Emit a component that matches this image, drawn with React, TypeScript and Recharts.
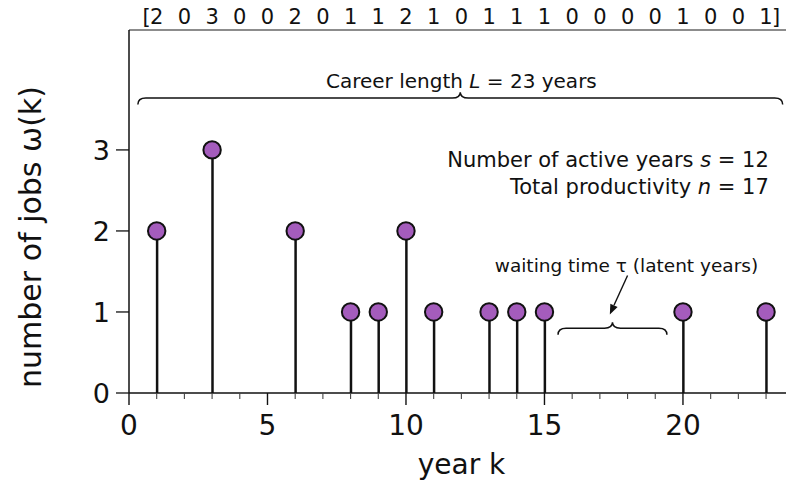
import {
  ComposedChart,
  Bar,
  Scatter,
  XAxis,
  YAxis,
  ReferenceArea,
  ReferenceDot,
  ReferenceLine,
} from 'recharts'

// publication record of one career: jobs per year
const years = [1, 2, 3, 4, 5, 6, 7, 8, 9, 10, 11, 12, 13, 14, 15, 16, 17, 18, 19, 20, 21, 22, 23]
const jobs = [2, 0, 3, 0, 0, 2, 0, 1, 1, 2, 1, 0, 1, 1, 1, 0, 0, 0, 0, 1, 0, 0, 1]

const xTicks = [0, 1, 2, 3, 4, 5, 6, 7, 8, 9, 10, 11, 12, 13, 14, 15, 16, 17, 18, 19, 20, 21, 22, 23]
const xLabelTicks = [0, 5, 10, 15, 20]
const yTicks = [0, 1, 2, 3]

const careerLength = 23
const activeYears = 12
const totalJobs = 17

const data = years.map((year, i) => ({ year, jobs: jobs[i] }))
const active = data.filter(d => d.jobs > 0)

const FONT = '"DejaVu Sans", sans-serif'
const INK = '#111'
const PURPLE = '#a45cbc'

const braceShape = (p: any) => {
  const { x, y, width, height } = p
  const x1 = x
  const x2 = x + width
  const xm = x + width / 2
  const d = height
  const r = 8
  const path = `M ${x1} ${y + d} Q ${x1} ${y} ${x1 + r} ${y} L ${xm - r} ${y} Q ${xm} ${y} ${xm} ${y - d * 0.9} Q ${xm} ${y} ${xm + r} ${y} L ${x2 - r} ${y} Q ${x2} ${y} ${x2} ${y + d}`
  return <path d={path} fill="none" stroke={INK} strokeWidth={1.5} />
}

const arrowShape = (p: any) => {
  const { x1, y1, x2, y2 } = p
  const a = Math.atan2(y2 - y1, x2 - x1)
  const L = 10
  const W = 4
  const bx = x2 - L * Math.cos(a)
  const by = y2 - L * Math.sin(a)
  const px = -Math.sin(a) * W
  const py = Math.cos(a) * W
  return (
    <g>
      <line x1={x1} y1={y1} x2={bx} y2={by} stroke={INK} strokeWidth={1.4} />
      <polygon points={`${x2},${y2} ${bx + px},${by + py} ${bx - px},${by - py}`} fill={INK} />
    </g>
  )
}

const textShape = (content: any, size: number, anchor: string) => (p: any) => (
  <text x={p.cx} y={p.cy} fontSize={size} fontFamily={FONT} fill={INK} textAnchor={anchor}>
    {content}
  </text>
)

const BottomTick = (p: any) => {
  const { x, y, payload } = p
  const major = xLabelTicks.includes(payload.value)
  return (
    <g>
      <line x1={x} y1={y} x2={x} y2={y + (major ? 12 : 6)} stroke={major ? INK : '#444'} strokeWidth={major ? 1.4 : 1.1} />
      {major && (
        <text x={x} y={y + 42} textAnchor="middle" fontSize={28} fontFamily={FONT} fill={INK}>
          {payload.value}
        </text>
      )}
    </g>
  )
}

const TopTick = (p: any) => {
  const { x, y, payload, index } = p
  const v = jobs[years.indexOf(payload.value)]
  return (
    <g fontSize={21} fontFamily={FONT} fill={INK}>
      {index === 0 && (
        <text x={x - 6} y={y - 6} textAnchor="end">[</text>
      )}
      <text x={x} y={y - 6} textAnchor="middle">{v}</text>
      {index === years.length - 1 && (
        <text x={x + 6} y={y - 6} textAnchor="start">]</text>
      )}
    </g>
  )
}

const XLabel = (p: any) => {
  const { x, y, width } = p.viewBox
  return (
    <text x={x + width / 2 + 4} y={y + 81} textAnchor="middle" fontSize={28} fontFamily={FONT} fill={INK}>
      year k
    </text>
  )
}

const YLabel = (p: any) => {
  const { y } = p.viewBox
  const cx = 41
  const cy = y + 207
  return (
    <text
      x={cx}
      y={cy}
      transform={`rotate(-90 ${cx} ${cy})`}
      textAnchor="middle"
      fontSize={30}
      fontFamily={FONT}
      fill={INK}
    >
      number of jobs ω(k)
    </text>
  )
}

const Dot = (p: any) => (
  <circle cx={p.cx} cy={p.cy} r={8.7} fill={PURPLE} stroke={INK} strokeWidth={2} />
)

export default function App() {
  return (
    <div style={{ position: 'absolute', left: 0, top: 0, background: '#fff' }}>
      <ComposedChart width={786} height={486} data={data} margin={{ top: 0, right: 0, bottom: 0, left: 0 }}>
        <XAxis
          type="number"
          dataKey="year"
          domain={[0, 23.72]}
          ticks={xTicks}
          interval={0}
          allowDataOverflow
          tickSize={0}
          tickMargin={0}
          tickLine={false}
          axisLine={{ stroke: INK, strokeWidth: 1.5 }}
          height={93}
          tick={BottomTick}
          label={{ content: XLabel }}
        />
        <XAxis
          xAxisId="top"
          orientation="top"
          type="number"
          dataKey="year"
          domain={[0, 23.72]}
          ticks={years}
          interval={0}
          allowDataOverflow
          tickSize={0}
          tickMargin={0}
          tickLine={false}
          axisLine={{ stroke: '#666', strokeWidth: 1.5 }}
          height={30}
          tick={TopTick}
        />
        <YAxis
          type="number"
          domain={[0, 4.48]}
          ticks={yTicks}
          interval={0}
          allowDataOverflow
          width={129}
          tickSize={13}
          tickMargin={6}
          axisLine={{ stroke: INK, strokeWidth: 1.5 }}
          tickLine={{ stroke: INK, strokeWidth: 1.3 }}
          tick={{ fontSize: 27, fill: INK, fontFamily: FONT }}
          label={{ content: YLabel }}
        />
        <Bar dataKey="jobs" fill={INK} barSize={2.5} isAnimationActive={false} />
        <Scatter data={active} dataKey="jobs" shape={Dot} isAnimationActive={false} />

        <ReferenceArea x1={0.32} x2={23.6} y1={3.56} y2={3.64} ifOverflow="visible" shape={braceShape} />
        <ReferenceDot
          x={12}
          y={3.77}
          r={0}
          ifOverflow="visible"
          shape={textShape(
            <>
              Career length <tspan fontStyle="italic">L</tspan> = {careerLength} years
            </>,
            20,
            'middle'
          )}
        />
        <ReferenceDot
          x={23.1}
          y={2.79}
          r={0}
          ifOverflow="visible"
          shape={textShape(
            <>
              Number of active years <tspan fontStyle="italic">s</tspan> = {activeYears}
            </>,
            21,
            'end'
          )}
        />
        <ReferenceDot
          x={23.1}
          y={2.46}
          r={0}
          ifOverflow="visible"
          shape={textShape(
            <>
              Total productivity <tspan fontStyle="italic">n</tspan> = {totalJobs}
            </>,
            21,
            'end'
          )}
        />
        <ReferenceDot
          x={17.96}
          y={1.49}
          r={0}
          ifOverflow="visible"
          shape={textShape('waiting time τ (latent years)', 18.5, 'middle')}
        />
        <ReferenceLine
          segment={[
            { x: 18.0, y: 1.45 },
            { x: 17.36, y: 0.97 },
          ]}
          ifOverflow="visible"
          shape={arrowShape}
        />
        <ReferenceArea x1={15.49} x2={19.42} y1={0.72} y2={0.8} ifOverflow="visible" shape={braceShape} />
      </ComposedChart>
    </div>
  )
}
